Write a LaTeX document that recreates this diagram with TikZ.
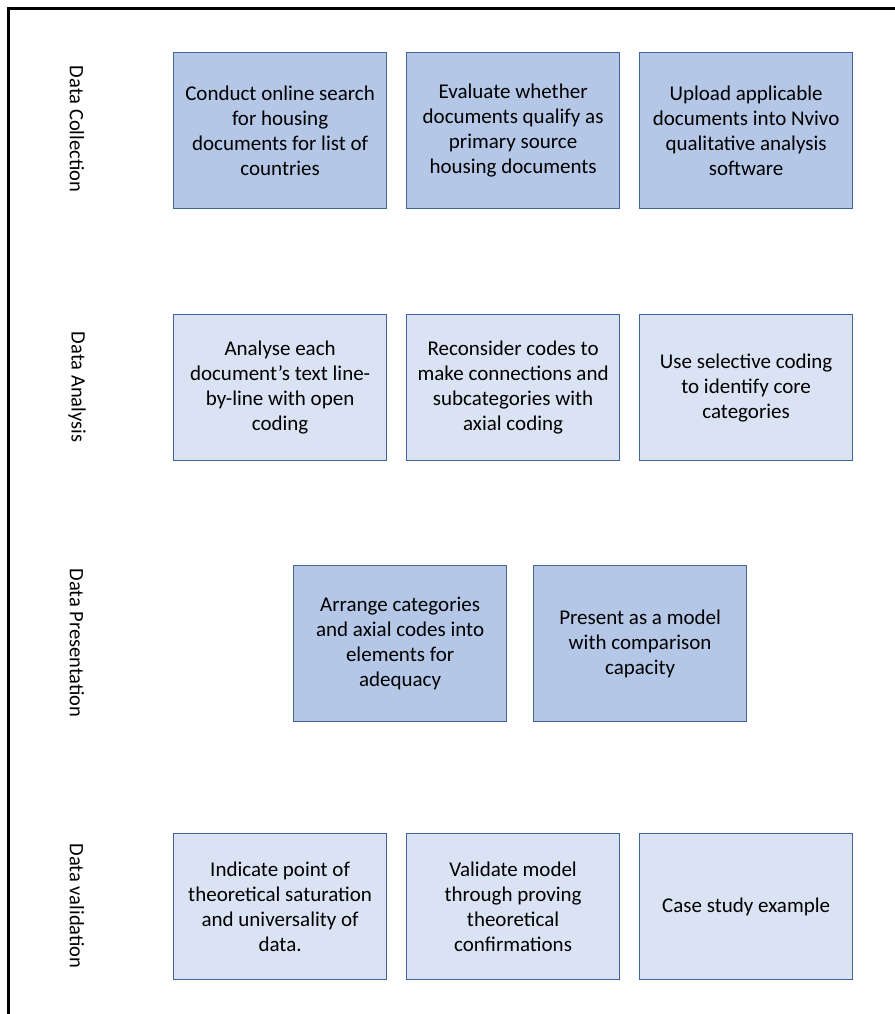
\documentclass[tikz,border=0pt]{standalone}
\usepackage{fontspec}
\setmainfont{Carlito}
\definecolor{boxline}{HTML}{41649F}
\definecolor{darkfill}{HTML}{B4C7E7}
\definecolor{lightfill}{HTML}{DAE3F3}
\begin{document}
\begin{tikzpicture}[x=1pt,y=-1pt,
  stepbox/.style={draw=boxline, line width=1.2pt, minimum width=213pt, anchor=north west, align=center, font=\fontsize{21}{25}\selectfont, inner sep=0pt},
  dark/.style={stepbox, fill=darkfill},
  light/.style={stepbox, fill=lightfill},
  rowlabel/.style={rotate=-90, font=\fontsize{20.5}{25}\selectfont, inner sep=0pt}]
\useasboundingbox (0,0) rectangle (894,1014);
\fill[white] (0,0) rectangle (894,1014);
\draw[line width=3pt] (8,1016) -- (8,9) -- (896,9);

% Data Collection
\node[rowlabel] (l1) at (77,129) {Data Collection};
\node[dark, minimum height=156pt] (a1) at (173,52) {Conduct online search\\for housing\\documents for list of\\countries};
\node[dark, minimum height=156pt] (a2) at (406,52) {Evaluate whether\\documents qualify as\\primary source\\housing documents};
\node[dark, minimum height=156pt] (a3) at (639,52) {Upload applicable\\documents into Nvivo\\qualitative analysis\\software};

% Data Analysis
\node[rowlabel] (l2) at (77,387) {Data Analysis};
\node[light, minimum height=146pt] (b1) at (173,314) {Analyse each\\document’s text line-\\by-line with open\\coding};
\node[light, minimum height=146pt] (b2) at (406,314) {Reconsider codes to\\make connections and\\subcategories with\\axial coding};
\node[light, minimum height=146pt] (b3) at (639,314) {Use selective coding\\to identify core\\categories};

% Data Presentation
\node[rowlabel] (l3) at (77,643) {Data Presentation};
\node[dark, minimum height=156pt] (c1) at (293,565) {Arrange categories\\and axial codes into\\elements for\\adequacy};
\node[dark, minimum height=156pt] (c2) at (533,565) {Present as a model\\with comparison\\capacity};

% Data validation
\node[rowlabel] (l4) at (77,906) {Data validation};
\node[light, minimum height=146pt] (d1) at (173,833) {Indicate point of\\theoretical saturation\\and universality of\\data.};
\node[light, minimum height=146pt] (d2) at (406,833) {Validate model\\through proving\\theoretical\\confirmations};
\node[light, minimum height=146pt] (d3) at (639,833) {Case study example};
\end{tikzpicture}
\end{document}
